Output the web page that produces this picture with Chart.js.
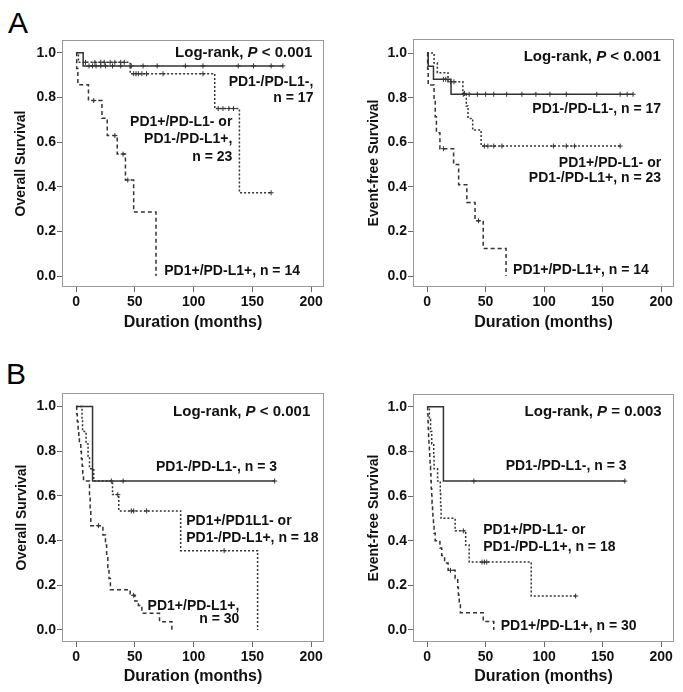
<!DOCTYPE html>
<html>
<head>
<meta charset="utf-8">
<script src="https://cdn.jsdelivr.net/npm/chart.js@4.4.0/dist/chart.umd.min.js"></script>
<style>
  body { margin: 0; width: 683px; height: 692px; background: #fff; position: relative; overflow: hidden;
         font-family: Arial, "Liberation Sans", sans-serif; }
  canvas { position: absolute; }
  .tag { position: absolute; font-size: 30px; line-height: 1; color: #000; }
</style>
</head>
<body>
<div class="tag" style="left:8px;top:8px">A</div>
<div class="tag" style="left:6px;top:359px">B</div>
<canvas id="osA" width="340" height="332" style="left:0;top:0"></canvas>
<canvas id="efsA" width="343" height="332" style="left:340px;top:0"></canvas>
<canvas id="osB" width="340" height="340" style="left:0;top:350px"></canvas>
<canvas id="efsB" width="343" height="340" style="left:340px;top:350px"></canvas>
<script>
const xTicks = [0, 50, 100, 150, 200];
const yTicks = [0, 0.2, 0.4, 0.6, 0.8, 1.0];

// T = step times (months), S = survival after step, C = censored times
// A, overall survival
const osA_negT = [0, 6, 176];
const osA_negS = [1, 0.941, 0.941];
const osA_negC = [11, 14, 17, 21, 25, 31, 38, 47, 57, 69, 93, 108, 138, 151, 166, 176];
const osA_oneT = [0, 2, 46, 118, 139, 166];
const osA_oneS = [1, 0.957, 0.906, 0.75, 0.373, 0.373];
const osA_oneC = [8, 16, 21, 24, 29, 33, 38, 41, 49, 51, 53, 56, 60, 74, 108, 121, 125, 130, 134, 166];
const osA_twoT = [0, 0.5, 1.5, 10.5, 22, 26.5, 35, 42, 49, 68];
const osA_twoS = [1, 0.929, 0.857, 0.786, 0.707, 0.629, 0.546, 0.43, 0.287, 0];
const osA_twoC = [15, 33, 40, 44];

// A, event-free survival
const efsA_negT = [0, 1, 5.5, 20.5, 176];
const efsA_negS = [1, 0.941, 0.882, 0.815, 0.815];
const efsA_negC = [14, 16, 31, 36, 43, 50, 57, 68, 81, 93, 105, 119, 145, 165, 171, 176];
const efsA_oneT = [0, 6, 8.8, 17.9, 30.6, 33.5, 35, 39, 46.2, 165];
const efsA_oneS = [1, 0.955, 0.912, 0.871, 0.819, 0.763, 0.707, 0.655, 0.583, 0.583];
const efsA_oneC = [20, 23, 32, 49, 52, 57, 64, 108, 119, 126, 165];
const efsA_twoT = [0, 0.5, 1, 6, 7, 8, 11, 22.7, 27, 34, 41, 48, 67.5];
const efsA_twoS = [1, 0.929, 0.857, 0.786, 0.714, 0.643, 0.571, 0.5, 0.41, 0.33, 0.248, 0.124, 0];
const efsA_twoC = [14, 44];

// B, overall survival
const osB_negT = [0, 14, 169];
const osB_negS = [1, 0.667, 0.667];
const osB_negC = [40, 169];
const osB_oneT = [0, 5, 5.5, 8.5, 10.2, 11.4, 15, 31, 36.3, 89, 154.5];
const osB_oneS = [1, 0.944, 0.889, 0.833, 0.778, 0.722, 0.667, 0.606, 0.533, 0.355, 0];
const osB_oneC = [30, 35.5, 47, 49, 60, 126];
const osB_twoT = [0, 0.5, 1, 1.7, 2.3, 2.8, 4, 4.5, 5.2, 5.7, 6.3, 11.4, 12, 12.5, 22.8, 25, 26, 27, 28, 29.2, 46, 50, 53, 56, 71, 81.5];
const osB_twoS = [1, 0.967, 0.933, 0.9, 0.867, 0.833, 0.8, 0.767, 0.733, 0.7, 0.667, 0.6, 0.533, 0.467, 0.425, 0.38, 0.33, 0.28, 0.23, 0.18, 0.155, 0.13, 0.11, 0.075, 0.037, 0];
const osB_twoC = [19, 49];

// B, event-free survival
const efsB_negT = [0, 14, 169];
const efsB_negS = [1, 0.667, 0.667];
const efsB_negC = [40, 169];
const efsB_oneT = [0, 2, 3, 4, 5.7, 6, 9, 11.3, 11.6, 12, 24, 33, 36, 89, 127];
const efsB_oneS = [1, 0.944, 0.889, 0.833, 0.778, 0.722, 0.667, 0.611, 0.556, 0.5, 0.444, 0.38, 0.304, 0.152, 0.152];
const efsB_oneC = [31, 47, 49, 51, 127];
const efsB_twoT = [0, 0.5, 0.8, 1, 1.3, 1.6, 2, 2.3, 2.6, 3, 3.3, 3.6, 4, 4.3, 4.7, 5, 5.5, 6, 7, 11, 12.5, 15, 18, 24, 26.2, 26.8, 27.5, 28.5, 48, 57];
const efsB_twoS = [1, 0.967, 0.933, 0.9, 0.867, 0.833, 0.8, 0.767, 0.733, 0.7, 0.667, 0.633, 0.6, 0.567, 0.533, 0.5, 0.467, 0.433, 0.4, 0.367, 0.333, 0.3, 0.267, 0.23, 0.19, 0.155, 0.115, 0.077, 0.038, 0];
const efsB_twoC = [20];

const FONT = 'Arial, "Liberation Sans", sans-serif';
const LINE = '#333';

function levelAt(T, S, t) {
  let v = S[0];
  for (let i = 0; i < T.length; i++) if (T[i] <= t) v = S[i];
  return v;
}

function groupSets(T, S, C, dash) {
  return [
    {
      // horizontal first, then drop at the event time
      data: T.map((t, i) => ({x: t, y: S[i]})),
      stepped: 'before', borderColor: LINE, borderWidth: 1.5, borderDash: dash,
      pointRadius: 0, fill: false, tension: 0
    },
    {
      data: C.map(t => ({x: t, y: levelAt(T, S, t)})),
      showLine: false, pointStyle: 'cross', pointRadius: 2.5, borderColor: LINE,
      borderWidth: 1, pointBorderWidth: 1
    }
  ];
}

function makeChart(id, p) {
  const notes = {
    id: 'notes',
    afterDatasetsDraw(chart) {
      const {ctx, scales: {x, y}} = chart;
      ctx.save();
      ctx.fillStyle = '#111';
      ctx.textBaseline = 'middle';
      p.notes.forEach(n => {
        const parts = n.parts || [{t: n.text}];
        const size = n.size || 14;
        const fonts = parts.map(q => (q.i ? 'italic ' : '') + 'bold ' + size + 'px ' + FONT);
        let total = 0;
        const ws = parts.map((q, k) => { ctx.font = fonts[k]; const w = ctx.measureText(q.t).width; total += w; return w; });
        let px = x.getPixelForValue(n.x);
        if (n.align === 'right') px -= total;
        const py = y.getPixelForValue(n.y);
        ctx.textAlign = 'left';
        parts.forEach((q, k) => { ctx.font = fonts[k]; ctx.fillText(q.t, px, py); px += ws[k]; });
      });
      ctx.restore();
    }
  };
  const frame = {
    id: 'frame',
    afterDraw(chart) {
      const {ctx, chartArea: a} = chart;
      ctx.save();
      ctx.strokeStyle = '#999';
      ctx.lineWidth = 1;
      ctx.strokeRect(Math.round(a.left) + 0.5, Math.round(a.top) + 0.5, Math.round(a.right - a.left) - 1, Math.round(a.bottom - a.top) - 1);
      ctx.restore();
    }
  };
  const tickFont = {family: FONT, size: 14, weight: 'bold'};
  return new Chart(document.getElementById(id), {
    type: 'line',
    data: {datasets: [].concat(...p.groups.map(g => groupSets(g[0], g[1], g[2], g[3])))},
    options: {
      responsive: false,
      animation: false,
      layout: {padding: {top: p.padTop, right: p.padRight, left: 0, bottom: 0}},
      plugins: {legend: {display: false}, tooltip: {enabled: false}},
      scales: {
        x: {
          type: 'linear', min: -12, max: 211,
          afterBuildTicks: s => { s.ticks = xTicks.map(v => ({value: v})); },
          afterFit: s => { s.height = p.xHeight; },
          grid: {drawOnChartArea: false, tickLength: 5, color: '#666'},
          border: {display: false},
          ticks: {font: tickFont, color: '#111', padding: 2, maxRotation: 0, autoSkip: false},
          title: {display: true, text: 'Duration (months)', color: '#111',
                  font: {family: FONT, size: 16, weight: 'bold'}, padding: {top: 0, bottom: p.xTitlePad}}
        },
        y: {
          type: 'linear', min: p.yMin, max: p.yMax,
          afterBuildTicks: s => { s.ticks = yTicks.map(v => ({value: v})); },
          afterFit: s => { s.width = p.yWidth; },
          grid: {drawOnChartArea: false, tickLength: 5, color: '#666'},
          border: {display: false},
          ticks: {font: tickFont, color: '#111', padding: 1, autoSkip: false, callback: v => v.toFixed(1)},
          title: {display: true, text: p.yTitle, color: '#111',
                  font: {family: FONT, size: 14, weight: 'bold'}, padding: {top: p.yTitlePad, bottom: 0}}
        }
      }
    },
    plugins: [frame, notes]
  });
}

const solid = [], dotted = [2, 2], dashed = [4, 3];

makeChart('osA', {
  padTop: 40, padRight: 16, xHeight: 45, yWidth: 62, yMin: -0.049, yMax: 1.057,
  xTitlePad: 0, yTitle: 'Overall Survival', yTitlePad: 13,
  groups: [[osA_negT, osA_negS, osA_negC, solid], [osA_oneT, osA_oneS, osA_oneC, dotted], [osA_twoT, osA_twoS, osA_twoC, dashed]],
  notes: [
    {parts: [{t: 'Log-rank, '}, {t: 'P', i: true}, {t: ' < 0.001'}], x: 201, y: 1.0, align: 'right', size: 15},
    {text: 'PD1-/PD-L1-,', x: 202, y: 0.869, align: 'right'},
    {text: 'n = 17', x: 202, y: 0.797, align: 'right'},
    {text: 'PD1+/PD-L1- or', x: 133, y: 0.69, align: 'right'},
    {text: 'PD1-/PD-L1+,', x: 133, y: 0.613, align: 'right'},
    {text: 'n = 23', x: 133, y: 0.533, align: 'right'},
    {text: 'PD1+/PD-L1+, n = 14', x: 75, y: 0.022, align: 'left'}
  ]
});

makeChart('efsA', {
  padTop: 39, padRight: 9, xHeight: 45, yWidth: 73, yMin: -0.049, yMax: 1.063,
  xTitlePad: 0, yTitle: 'Event-free Survival', yTitlePad: 25.6,
  groups: [[efsA_negT, efsA_negS, efsA_negC, solid], [efsA_oneT, efsA_oneS, efsA_oneC, dotted], [efsA_twoT, efsA_twoS, efsA_twoC, dashed]],
  notes: [
    {parts: [{t: 'Log-rank, '}, {t: 'P', i: true}, {t: ' < 0.001'}], x: 199.7, y: 0.983, align: 'right', size: 15},
    {text: 'PD1-/PD-L1-, n = 17', x: 200, y: 0.747, align: 'right'},
    {text: 'PD1+/PD-L1- or', x: 200, y: 0.508, align: 'right'},
    {text: 'PD1-/PD-L1+, n = 23', x: 200, y: 0.438, align: 'right'},
    {text: 'PD1+/PD-L1+, n = 14', x: 73.5, y: 0.027, align: 'left'}
  ]
});

makeChart('osB', {
  padTop: 43, padRight: 16, xHeight: 48, yWidth: 62, yMin: -0.054, yMax: 1.061,
  xTitlePad: 3.4, yTitle: 'Overall Survival', yTitlePad: 14,
  groups: [[osB_negT, osB_negS, osB_negC, solid], [osB_oneT, osB_oneS, osB_oneC, dotted], [osB_twoT, osB_twoS, osB_twoC, dashed]],
  notes: [
    {parts: [{t: 'Log-rank, '}, {t: 'P', i: true}, {t: ' < 0.001'}], x: 199.3, y: 0.978, align: 'right', size: 15},
    {text: 'PD1-/PD-L1-, n = 3', x: 171, y: 0.731, align: 'right'},
    {text: 'PD1+/PD1L1- or', x: 93.7, y: 0.485, align: 'left'},
    {text: 'PD1-/PD-L1+, n = 18', x: 93.7, y: 0.41, align: 'left'},
    {text: 'PD1+/PD-L1+,', x: 139, y: 0.105, align: 'right'},
    {text: 'n = 30', x: 139, y: 0.048, align: 'right'}
  ]
});

makeChart('efsB', {
  padTop: 44, padRight: 9, xHeight: 48, yWidth: 73, yMin: -0.054, yMax: 1.057,
  xTitlePad: 3.4, yTitle: 'Event-free Survival', yTitlePad: 25.6,
  groups: [[efsB_negT, efsB_negS, efsB_negC, solid], [efsB_oneT, efsB_oneS, efsB_oneC, dotted], [efsB_twoT, efsB_twoS, efsB_twoC, dashed]],
  notes: [
    {parts: [{t: 'Log-rank, '}, {t: 'P', i: true}, {t: ' = 0.003'}], x: 200.5, y: 0.979, align: 'right', size: 15},
    {text: 'PD1-/PD-L1-, n = 3', x: 170.5, y: 0.732, align: 'right'},
    {text: 'PD1+/PD-L1- or', x: 48, y: 0.448, align: 'left'},
    {text: 'PD1-/PD-L1+, n = 18', x: 48, y: 0.373, align: 'left'},
    {text: 'PD1+/PD-L1+, n = 30', x: 63, y: 0.015, align: 'left'}
  ]
});
</script>
</body>
</html>
